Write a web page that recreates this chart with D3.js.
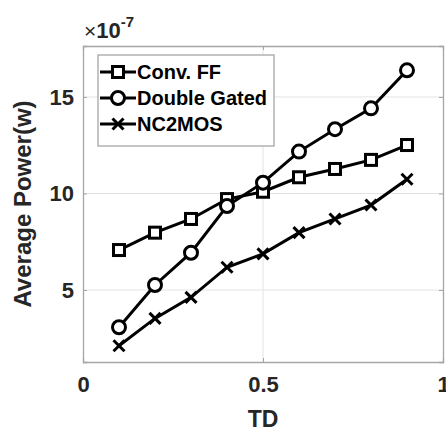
<!DOCTYPE html>
<html><head><meta charset="utf-8">
<script src="https://cdn.jsdelivr.net/npm/d3@7"></script>
<style>body{margin:0;background:#fff}svg{display:block}</style>
</head><body>
<svg id="c" width="446" height="431"></svg>
<script>
const tdValues = [0.1,0.2,0.3,0.4,0.5,0.6,0.7,0.8,0.9];
const convFF = [7.07,7.97,8.68,9.71,10.09,10.84,11.27,11.74,12.51];
const doubleGated = [3.07,5.26,6.93,9.35,10.56,12.17,13.33,14.41,16.38];
const nc2mos = [2.11,3.53,4.62,6.18,6.87,7.97,8.68,9.40,10.74];
const seriesNames = ["Conv. FF","Double Gated","NC2MOS"];
const seriesMarkers = ["square","circle","cross"];
const xTicks = [0,0.5,1];
const yTicks = [5,10,15];
const xTickLabels = ["0","0.5","1"];
const yTickLabels = ["5","10","15"];

const svg = d3.select("#c");
const L=83,R=443,T=46,B=362;
const x = d3.scaleLinear().domain([0,1]).range([L,R]);
const y = d3.scaleLinear().domain([1.27,17.64]).range([B,T]);
const font = "'Liberation Sans', Arial, sans-serif";
const txt = "#262626";

// grid
svg.append("g").selectAll("line").data(xTicks.slice(1,-1)).join("line")
  .attr("x1",d=>x(d)).attr("x2",d=>x(d)).attr("y1",T).attr("y2",B)
  .attr("stroke","#e3e3e3").attr("stroke-width",1);
svg.append("g").selectAll("line").data(yTicks).join("line")
  .attr("x1",L).attr("x2",R).attr("y1",d=>y(d)).attr("y2",d=>y(d))
  .attr("stroke","#e3e3e3").attr("stroke-width",1);

// axes via d3
const axB = svg.append("g").attr("transform",`translate(0,${B})`)
  .call(d3.axisBottom(x).tickValues(xTicks).tickFormat((d,i)=>xTickLabels[i]).tickSize(-4).tickPadding(14));
const axL = svg.append("g").attr("transform",`translate(${L},0)`)
  .call(d3.axisLeft(y).tickValues(yTicks).tickFormat((d,i)=>yTickLabels[i]).tickSize(-4).tickPadding(9));
const axT = svg.append("g").attr("transform",`translate(0,${T})`)
  .call(d3.axisTop(x).tickValues(xTicks).tickFormat("").tickSize(-4));
const axR = svg.append("g").attr("transform",`translate(${R},0)`)
  .call(d3.axisRight(y).tickValues(yTicks).tickFormat("").tickSize(-4));
[axB,axL,axT,axR].forEach(a=>{
  a.select(".domain").attr("stroke","#a6a6a6").attr("stroke-width",1.3);
  a.selectAll(".tick line").attr("stroke","#a6a6a6");
  a.selectAll(".tick text").attr("font-family",font).attr("font-weight","bold")
    .attr("font-size",22).attr("fill",txt);
});
axB.selectAll(".tick text").attr("dy","0.71em");

// multiplier
const mult = svg.append("text").attr("x",84).attr("y",38).attr("font-family",font).attr("fill",txt);
mult.append("tspan").attr("font-size",21).text("\u00d7");
mult.append("tspan").attr("font-size",22).attr("font-weight","bold").text("10");
mult.append("tspan").attr("font-size",15).attr("font-weight","bold").attr("dy",-11).text("-7");

// axis labels
svg.append("text").attr("x",(L+R)/2).attr("y",427).attr("text-anchor","middle")
  .attr("font-family",font).attr("font-weight","bold").attr("font-size",23).attr("fill",txt).text("TD");
svg.append("text").attr("transform",`translate(31,${(T+B)/2}) rotate(-90)`).attr("text-anchor","middle")
  .attr("font-family",font).attr("font-weight","bold").attr("font-size",24).attr("fill",txt).text("Average Power(w)");

function drawMarker(g, type, cx, cy){
  if(type==="square"){
    g.append("rect").attr("x",cx-5.5).attr("y",cy-5.5).attr("width",11).attr("height",11)
      .attr("fill","#fff").attr("stroke","#000").attr("stroke-width",3);
  } else if(type==="circle"){
    g.append("circle").attr("cx",cx).attr("cy",cy).attr("r",6.5)
      .attr("fill","#fff").attr("stroke","#000").attr("stroke-width",3);
  } else {
    const s=5.5;
    g.append("path").attr("d",`M${cx-s},${cy-s}L${cx+s},${cy+s}M${cx-s},${cy+s}L${cx+s},${cy-s}`)
      .attr("stroke","#000").attr("stroke-width",3).attr("fill","none");
  }
}

const allSeries = [convFF, doubleGated, nc2mos];
const line = d3.line().x((d,i)=>x(tdValues[i])).y(d=>y(d));
allSeries.forEach((vals,si)=>{
  const g = svg.append("g");
  g.append("path").attr("d",line(vals)).attr("fill","none").attr("stroke","#000").attr("stroke-width",3);
  vals.forEach((v,i)=>drawMarker(g, seriesMarkers[si], x(tdValues[i]), y(v)));
});

// legend
const lg = svg.append("g");
lg.append("rect").attr("x",98).attr("y",55).attr("width",176).attr("height",91)
  .attr("fill","#fff").attr("stroke","#a6a6a6").attr("stroke-width",1.3);
seriesNames.forEach((n,i)=>{
  const cy = 72 + i*26;
  lg.append("line").attr("x1",100).attr("x2",136).attr("y1",cy).attr("y2",cy).attr("stroke","#000").attr("stroke-width",3);
  drawMarker(lg, seriesMarkers[i], 118, cy);
  lg.append("text").attr("x",137).attr("y",cy).attr("dy","0.35em").attr("font-family",font)
    .attr("font-weight","bold").attr("font-size",20).attr("fill","#000").text(n);
});
</script>
</body></html>
